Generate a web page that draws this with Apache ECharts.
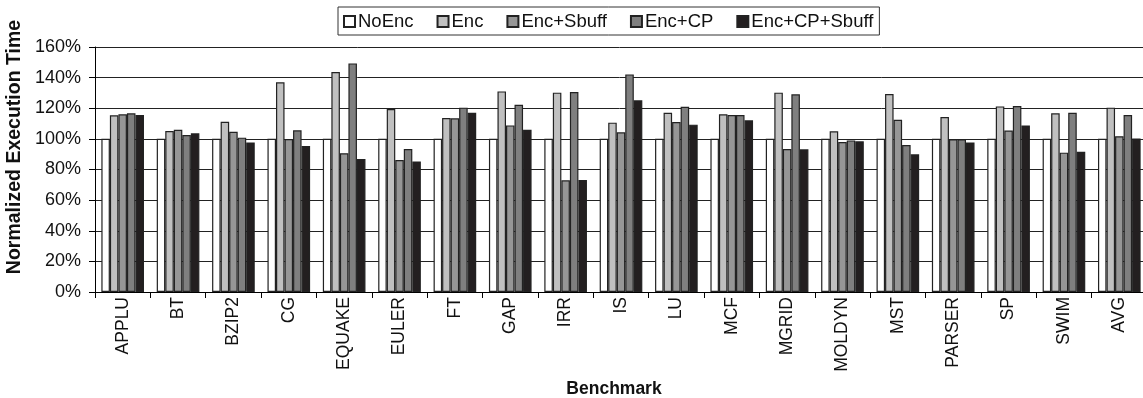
<!DOCTYPE html>
<html>
<head>
<meta charset="utf-8">
<script src="https://cdn.jsdelivr.net/npm/echarts@6/dist/echarts.min.js"></script>
<style>html,body{margin:0;padding:0;background:#fff}#c{width:1143px;height:398px}</style>
</head>
<body>
<div id="c"></div>
<script>
const categories = ['APPLU','BT','BZIP2','CG','EQUAKE','EULER','FT','GAP','IRR','IS','LU','MCF','MGRID','MOLDYN','MST','PARSER','SP','SWIM','AVG'];
const yTicks = [0,20,40,60,80,100,120,140,160];
const noEnc      = [100,100,100,100,100,100,100,100,100,100,100,100,100,100,100,100,100,100,100];
const enc        = [115.4,105.1,111.2,136.9,143.7,119.5,113.6,131.0,130.2,110.6,117.1,116.0,130.2,104.9,129.3,114.3,121.2,116.7,120.4];
const encSbuff   = [116.0,106.0,104.7,99.9,90.6,86.2,113.4,108.8,72.9,104.3,111.0,115.6,93.4,98.0,112.5,99.7,105.4,91.0,101.7];
const encCP      = [116.7,102.5,100.8,105.6,149.3,93.4,120.4,122.3,130.6,142.1,121.0,115.6,129.1,99.0,96.0,99.7,121.5,117.1,115.6];
const encCPSbuff = [115.6,103.6,97.7,95.3,86.9,85.3,117.1,106.0,73.1,125.2,109.3,112.1,93.2,98.4,89.9,97.7,108.8,91.6,100.3];
const seriesNames = ['NoEnc','Enc','Enc+Sbuff','Enc+CP','Enc+CP+Sbuff'];
const seriesData = [noEnc, enc, encSbuff, encCP, encCPSbuff];
const colors = ['#ffffff','#c0c0c0','#969696','#7f7f7f','#231f20'];

const font = 'Liberation Sans, Arial, sans-serif';
const chart = echarts.init(document.getElementById('c'));
chart.setOption({
  animation: false,
  backgroundColor: '#fff',
  textStyle: {fontFamily: font},
  legend: {
    data: seriesNames,
    left: 338, top: 7,
    icon: 'rect',
    itemWidth: 11, itemHeight: 11, itemGap: 23,
    padding: [5, 6, 4, 5],
    borderColor: '#333', borderWidth: 1,
    textStyle: {fontFamily: font, fontSize: 18.5, color: '#111', padding: [0,0,0,-2]}
  },
  grid: {left: 95, top: 47, width: 1052, height: 245, outerBoundsMode: 'none', containLabel: false},
  xAxis: {
    type: 'category',
    data: categories,
    name: 'Benchmark',
    nameLocation: 'middle',
    nameGap: 84,
    nameTextStyle: {fontFamily: font, fontSize: 17.5, fontWeight: 'bold', color: '#111', padding: [0,14,0,0]},
    axisLine: {lineStyle: {color: '#000', width: 1}},
    axisTick: {show: true, length: 6, lineStyle: {color: '#000'}},
    axisLabel: {rotate: 90, fontFamily: font, fontSize: 17.5, color: '#111', margin: 5}
  },
  yAxis: {
    type: 'value',
    min: 0, max: 160, interval: 20,
    axisLine: {show: true, lineStyle: {color: '#000', width: 1}},
    axisTick: {show: true, length: 6, lineStyle: {color: '#000'}},
    splitLine: {lineStyle: {color: '#222', width: 1}},
    axisLabel: {fontFamily: font, fontSize: 18, color: '#111', margin: 14, formatter: v => v + '%'}
  },
  graphic: [{
    type: 'text', x: 15, y: 147, rotation: Math.PI / 2,
    style: {text: 'Normalized Execution Time', font: 'bold 19.5px ' + font, fill: '#111', textAlign: 'center', textVerticalAlign: 'middle'}
  }],
  series: seriesNames.map((n, i) => ({
    name: n,
    type: 'bar',
    data: seriesData[i],
    barGap: 0,
    barCategoryGap: '23%',
    itemStyle: {color: colors[i], borderColor: '#222', borderWidth: 1.2}
  }))
});
</script>
</body>
</html>
